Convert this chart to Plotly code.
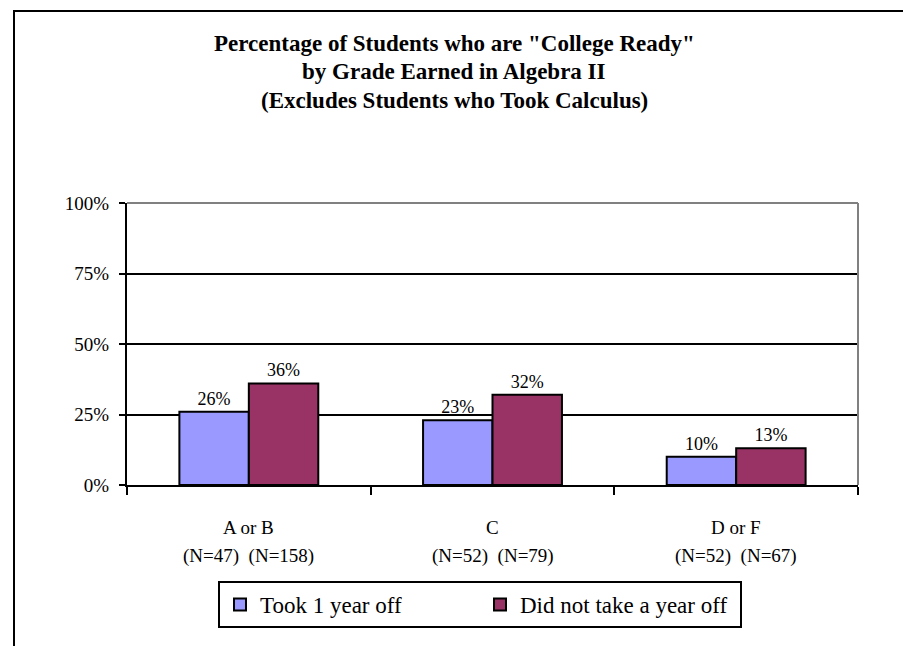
import plotly.graph_objects as go

categories = ["A or B", "C", "D or F"]
n_took = ["(N=47)", "(N=52)", "(N=52)"]
n_did = ["(N=158)", "(N=79)", "(N=67)"]
took_off = [26, 23, 10]
no_off = [36, 32, 13]
series_names = ["Took 1 year off", "Did not take a year off"]
y_ticks = [0, 25, 50, 75, 100]
title_lines = [
    'Percentage of Students who are "College Ready"',
    "by Grade Earned in Algebra II",
    "(Excludes Students who Took Calculus)",
]

W, H = 903, 646
L, R, T, B = 127, 858, 203, 485
FONT = "Liberation Serif"

def px(x):
    return (x - L) / (R - L)

def py(y):
    return (B - y) / (B - T)

fig = go.Figure()
fig.add_trace(go.Bar(
    x=categories, y=took_off, name=series_names[0],
    marker=dict(color="#9999FF", line=dict(color="black", width=2)),
    text=[f"{v}%" for v in took_off], textposition="outside",
    textfont=dict(family=FONT, size=18, color="black"), cliponaxis=False,
))
fig.add_trace(go.Bar(
    x=categories, y=no_off, name=series_names[1],
    marker=dict(color="#993366", line=dict(color="black", width=2)),
    text=[f"{v}%" for v in no_off], textposition="outside",
    textfont=dict(family=FONT, size=18, color="black"), cliponaxis=False,
))

annotations = []
for i, line in enumerate(title_lines):
    annotations.append(dict(
        text=f"<b>{line}</b>", xref="paper", yref="paper",
        x=px(454), y=py(43 + 28.5 * i), xanchor="center", yanchor="middle",
        showarrow=False, font=dict(family=FONT, size=23, color="black"),
    ))
for c, a, b in zip(categories, n_took, n_did):
    annotations.append(dict(
        text=c, xref="x", yref="paper", x=c, y=py(527),
        xanchor="center", yanchor="middle", showarrow=False,
        font=dict(family=FONT, size=19, color="black"),
    ))
    annotations.append(dict(
        text=f"{a}\u00a0\u00a0{b}", xref="x", yref="paper", x=c, y=py(556),
        xanchor="center", yanchor="middle", showarrow=False,
        font=dict(family=FONT, size=19, color="black"),
    ))

fig.update_layout(
    template="none",
    width=W, height=H,
    margin=dict(l=L, r=W - R, t=T, b=H - B),
    paper_bgcolor="white", plot_bgcolor="white",
    barmode="group", bargap=0.43, bargroupgap=0,
    xaxis=dict(
        type="category", categoryorder="array", categoryarray=categories,
        showticklabels=False,
        tickson="boundaries", ticks="outside", ticklen=8, tickwidth=2, tickcolor="black",
        showline=True, linecolor="black", linewidth=2,
        showgrid=False,
    ),
    yaxis=dict(
        range=[0, 100], tickvals=y_ticks, ticktext=[f"{v}%" for v in y_ticks],
        ticks="outside", ticklen=6, tickwidth=2, tickcolor="black",
        showline=True, linecolor="black", linewidth=2,
        showgrid=True, gridcolor="black", gridwidth=2, zeroline=False,
        tickfont=dict(family=FONT, size=19, color="black"),
        ticklabelstandoff=6,
    ),
    legend=dict(
        orientation="h", x=px(480), xanchor="center", y=py(581), yanchor="top",
        bordercolor="black", borderwidth=2, bgcolor="white",
        font=dict(family=FONT, size=23, color="black"),
        itemsizing="constant", entrywidth=215,
    ),
    annotations=annotations,
    shapes=[
        dict(type="line", xref="paper", yref="paper", x0=0, x1=1, y0=1, y1=1,
             line=dict(color="#808080", width=2), layer="above"),
        dict(type="line", xref="paper", yref="paper", x0=1, x1=1, y0=0, y1=1,
             line=dict(color="#808080", width=2), layer="above"),
        dict(type="line", xref="paper", yref="paper", x0=px(14), x1=px(14), y0=py(H + 5), y1=py(11),
             line=dict(color="black", width=2)),
        dict(type="line", xref="paper", yref="paper", x0=px(13), x1=px(W + 5), y0=py(11), y1=py(11),
             line=dict(color="black", width=2)),
    ],
)

fig.write_html("out.html")
